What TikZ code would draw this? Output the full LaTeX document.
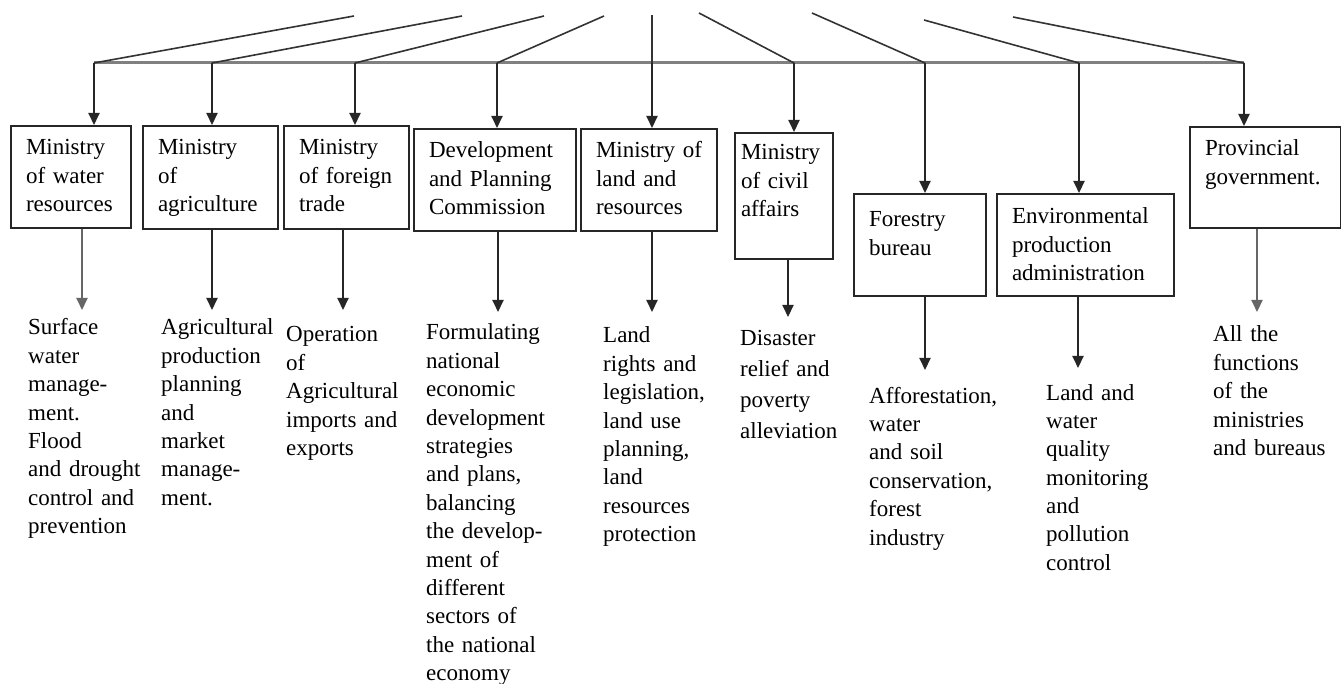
\documentclass[tikz,border=0pt]{standalone}
\usepackage{fontspec}
\setmainfont{Liberation Serif}
\usetikzlibrary{positioning,arrows.meta}
\tikzset{
  every node/.style={font=\fontsize{23}{28.4}\selectfont},
  unit/.style 2 args={
    draw=black!85, line width=2pt, anchor=north west, align=left,
    inner xsep=15pt, inner ysep=0pt, text height=29pt,
    text width=#1, text depth=#2
  },
  duty/.style={anchor=base west, align=left, inner sep=0pt, text width=150pt},
  arrow/.style={-{Triangle[length=12pt,width=11pt]}, line width=2pt, draw=black!85},
  fan/.style={line width=1.6pt, draw=black!80},
  bar/.style={line width=3pt, draw=black!50}
}

\begin{document}
\begin{tikzpicture}[x=1pt, y=-1pt]

\useasboundingbox (0,0) rectangle (1341,684);

%% ===========================================================================
%% Fan of lines into the distribution bar
%% ===========================================================================

  % free upper ends
  \coordinate (s1) at (354,16);
  \coordinate (s2) at (462,16);
  \coordinate (s3) at (544,16);
  \coordinate (s4) at (604,16);
  \coordinate (s5) at (652,15);
  \coordinate (s6) at (699,13);
  \coordinate (s7) at (812,13);
  \coordinate (s8) at (924,20);
  \coordinate (s9) at (1013,17);

  % joints on the bar
  \coordinate (j1) at (94,63);
  \coordinate (j2) at (212,63);
  \coordinate (j3) at (355,63);
  \coordinate (j4) at (497,63);
  \coordinate (j5) at (652,63);
  \coordinate (j6) at (794,63);
  \coordinate (j7) at (925,63);
  \coordinate (j8) at (1079,63);
  \coordinate (j9) at (1244,63);

  \draw[bar] (j1) -- (j9);

  \draw[fan] (s1) -- (j1);
  \draw[fan] (s2) -- (j2);
  \draw[fan] (s3) -- (j3);
  \draw[fan] (s4) -- (j4);
  \draw[fan] (s5) -- (j5);
  \draw[fan] (s6) -- (j6);
  \draw[fan] (s7) -- (j7);
  \draw[fan] (s8) -- (j8);
  \draw[fan] (s9) -- (j9);

%% ===========================================================================
%% Ministries and bureaus
%% ===========================================================================

  \node[unit={90pt}{73pt}]  (water)  at (10,125)  {Ministry\\of water\\resources};
  \node[unit={105pt}{74pt}] (agri)   at (142,125) {Ministry\\of\\agriculture};
  \node[unit={95pt}{74pt}]  (trade)  at (283,125) {Ministry\\of foreign\\trade};
  \node[unit={132pt}{73pt}] (plan)   at (413,128) {Development\\and Planning\\Commission};
  \node[unit={106pt}{73pt}] (land)   at (580,128) {Ministry~of\\land and\\resources};
  \node[unit={86pt}{99pt}, inner xsep=6pt, text height=27pt]
                            (civil)  at (734,132) {Ministry\\of civil\\affairs};
  \node[unit={102pt}{69pt}, text height=33pt]
                            (forest) at (853,193) {Forestry\\bureau};
  \node[unit={147pt}{72pt}, text height=30pt]
                            (env)    at (996,193) {Environmental\\production\\administration};
  \node[unit={121pt}{72pt}] (prov)   at (1189,126) {Provincial\\government.};

  % bar -> boxes
  \draw[arrow] (j1) -- (j1 |- water.north);
  \draw[arrow] (j2) -- (j2 |- agri.north);
  \draw[arrow] (j3) -- (j3 |- trade.north);
  \draw[arrow] (j4) -- (j4 |- plan.north);
  \draw[arrow] (j5) -- (j5 |- land.north);
  \draw[arrow] (j6) -- (j6 |- civil.north);
  \draw[arrow] (j7) -- (j7 |- forest.north);
  \draw[arrow] (j8) -- (j8 |- env.north);
  \draw[arrow] (j9) -- (j9 |- prov.north);

%% ===========================================================================
%% Functions
%% ===========================================================================

  % arrow tips below the boxes
  \coordinate (e1) at (82,310);
  \coordinate (e2) at (212,310);
  \coordinate (e3) at (343,310);
  \coordinate (e4) at (498,312);
  \coordinate (e5) at (652,312);
  \coordinate (e6) at (788,317);
  \coordinate (e7) at (925,370);
  \coordinate (e8) at (1078,368);
  \coordinate (e9) at (1257,312);

  \draw[arrow, draw=black!60] (e1 |- water.south) -- (e1);
  \draw[arrow] (e2 |- agri.south)   -- (e2);
  \draw[arrow] (e3 |- trade.south)  -- (e3);
  \draw[arrow] (e4 |- plan.south)   -- (e4);
  \draw[arrow] (e5 |- land.south)   -- (e5);
  \draw[arrow] (e6 |- civil.south)  -- (e6);
  \draw[arrow] (e7 |- forest.south) -- (e7);
  \draw[arrow] (e8 |- env.south)    -- (e8);
  \draw[arrow, draw=black!60] (e9 |- prov.south) -- (e9);

  \node[duty] (fwater)  at (28,335)   {Surface\\water\\manage-\\ment.\\Flood\\and drought\\control and\\prevention};
  \node[duty] (fagri)   at (161,335)  {Agricultural\\production\\planning\\and\\market\\manage-\\ment.};
  \node[duty] (ftrade)  at (286,342)  {Operation\\of\\Agricultural\\imports and\\exports};
  \node[duty] (fplan)   at (426,340)  {Formulating\\national\\economic\\development\\strategies\\and plans,\\balancing\\the develop-\\ment of\\different\\sectors of\\the national\\economy};
  \node[duty] (fland)   at (603,343)  {Land\\rights and\\legislation,\\land use\\planning,\\land\\resources\\protection};
  \node[duty, font=\fontsize{23}{30.8}\selectfont]
              (fcivil)  at (740,346)  {Disaster\\relief and\\poverty\\alleviation};
  \node[duty] (fforest) at (869,403)  {Afforestation,\\water\\and soil\\conservation,\\forest\\industry};
  \node[duty] (fenv)    at (1046,400) {Land and\\water\\quality\\monitoring\\and\\pollution\\control};
  \node[duty] (fprov)   at (1213,342) {All the\\functions\\of the\\ministries\\and bureaus};

\end{tikzpicture}
\end{document}
